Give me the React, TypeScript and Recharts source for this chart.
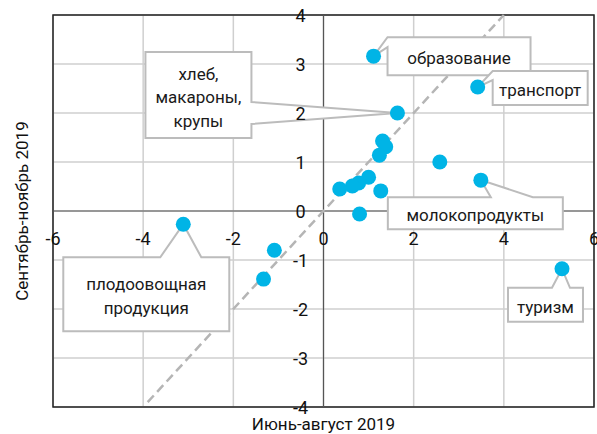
import { ScatterChart, Scatter, XAxis, YAxis, CartesianGrid, ReferenceLine, ReferenceArea } from "recharts";

// значения по осям: июнь-август 2019 (x) и сентябрь-ноябрь 2019 (y)
const pointX = [1.11, 3.42, 1.64, 1.31, 1.38, 1.24, 2.58, 1.0, 0.78, 0.64, 0.36, 3.49, 1.27, 0.8, -3.11, -1.09, -1.33, 5.29];
const pointY = [3.16, 2.53, 2.0, 1.43, 1.31, 1.14, 1.0, 0.69, 0.57, 0.51, 0.45, 0.63, 0.41, -0.06, -0.27, -0.8, -1.39, -1.18];
const pointName = [
  "образование",
  "транспорт",
  "хлеб, макароны, крупы",
  "", "", "", "", "", "", "", "",
  "молокопродукты",
  "", "",
  "плодоовощная продукция",
  "", "",
  "туризм",
];

const xTicks = [-6, -4, -2, 0, 2, 4, 6];
const yTicks = [-4, -3, -2, -1, 0, 1, 2, 3, 4];
const diagonalEnds = [-3.9, 4];

const points = pointX.map((x, i) => ({ x, y: pointY[i], name: pointName[i] }));
const labeled = points.filter((p) => p.name !== "");
const xTickData = xTicks.map((v) => ({ x: v, y: 0 }));
const yTickData = yTicks.map((v) => ({ x: 0, y: v }));

type Callout = {
  lines: string[];
  box: [number, number, number, number]; // dx, dy, w, h от точки
  side: "left" | "right" | "top";
  base: [number, number];
};

const callouts: Record<string, Callout> = {
  "образование": { lines: ["образование"], box: [14, -19, 143, 38], side: "left", base: [-19, -9] },
  "транспорт": { lines: ["транспорт"], box: [15, -16, 95, 34], side: "left", base: [-16, -7] },
  "хлеб, макароны, крупы": { lines: ["хлеб,", "макароны,", "крупы"], box: [-252, -61, 106, 86], side: "right", base: [-11, 11] },
  "молокопродукты": { lines: ["молокопродукты"], box: [-93, 17, 175, 32], side: "top", base: [10, 52] },
  "плодоовощная продукция": { lines: ["плодоовощная", "продукция"], box: [-120, 33, 166, 74], side: "top", base: [-23, 18] },
  "туризм": { lines: ["туризм"], box: [-54, 19, 75, 34], side: "top", base: [-10, 8] },
};

const FONT = "Roboto, 'Noto Sans', sans-serif";
const BLUE = "#00b4e6";

function calloutPath(cx: number, cy: number, c: Callout) {
  const x0 = cx + c.box[0];
  const y0 = cy + c.box[1];
  const x1 = x0 + c.box[2];
  const y1 = y0 + c.box[3];
  const [b1, b2] = c.base;
  if (c.side === "top") {
    return `M${x0},${y0} L${cx + b1},${y0} L${cx},${cy} L${cx + b2},${y0} L${x1},${y0} L${x1},${y1} L${x0},${y1} Z`;
  }
  if (c.side === "right") {
    return `M${x0},${y0} L${x1},${y0} L${x1},${cy + b1} L${cx},${cy} L${x1},${cy + b2} L${x1},${y1} L${x0},${y1} Z`;
  }
  return `M${x0},${y0} L${x1},${y0} L${x1},${y1} L${x0},${y1} L${x0},${cy + b2} L${cx},${cy} L${x0},${cy + b1} Z`;
}

const CalloutShape = (props: any) => {
  const { cx, cy, payload } = props;
  const c = callouts[payload.name];
  if (!c) return null;
  const midX = cx + c.box[0] + c.box[2] / 2;
  const midY = cy + c.box[1] + c.box[3] / 2 + 2;
  const lh = 23.5;
  const start = midY - ((c.lines.length - 1) * lh) / 2;
  return (
    <g>
      <path d={calloutPath(cx, cy, c)} fill="#fff" stroke="#bcbcbc" strokeWidth={2} strokeLinejoin="miter" />
      {c.lines.map((t, i) => (
        <text
          key={i}
          x={midX}
          y={start + i * lh}
          textAnchor="middle"
          dominantBaseline="central"
          fontFamily={FONT}
          fontSize={17}
          fill="#1a1a1a"
        >
          {t}
        </text>
      ))}
    </g>
  );
};

const Dot = (props: any) => <circle cx={props.cx} cy={props.cy} r={7.5} fill={BLUE} />;

const XTickLabel = (props: any) => (
  <text x={props.cx} y={props.cy + 27} textAnchor="middle" dominantBaseline="central" fontFamily={FONT} fontSize={18} fill="#111">
    {String(props.payload.x)}
  </text>
);

const YTickLabel = (props: any) => (
  <text x={props.cx - 23} y={props.cy} textAnchor="middle" dominantBaseline="central" fontFamily={FONT} fontSize={18} fill="#111">
    {String(props.payload.y)}
  </text>
);

export default function App() {
  return (
    <div style={{ position: "absolute", left: 0, top: 0, width: 597, height: 434, background: "#fff" }}>
      <ScatterChart width={597} height={434} margin={{ top: 15, right: 3, bottom: 27, left: 53 }}>
        <XAxis type="number" dataKey="x" domain={[-6, 6]} ticks={xTicks} hide />
        <YAxis type="number" dataKey="y" domain={[-4, 4]} ticks={yTicks} hide />
        <CartesianGrid stroke="#cfcfcf" strokeWidth={1.5} />
        <ReferenceLine x={0} stroke="#555" strokeWidth={1.2} />
        <ReferenceLine y={0} stroke="#555" strokeWidth={1.2} />
        <ReferenceArea x1={-6} x2={6} y1={-4} y2={4} fill="none" stroke="#222" strokeWidth={1.5} />
        <ReferenceLine
          segment={[
            { x: diagonalEnds[0], y: diagonalEnds[0] },
            { x: diagonalEnds[1], y: diagonalEnds[1] },
          ]}
          stroke="#b5b5b5"
          strokeWidth={2.5}
          strokeDasharray="9 5"
        />
        <Scatter data={labeled} shape={CalloutShape} isAnimationActive={false} />
        <Scatter data={points} shape={Dot} isAnimationActive={false} />
        <Scatter data={xTickData} shape={XTickLabel} isAnimationActive={false} />
        <Scatter data={yTickData} shape={YTickLabel} isAnimationActive={false} />
      </ScatterChart>
      <div
        style={{
          position: "absolute",
          left: 0,
          width: 597,
          top: 414,
          textAlign: "center",
          paddingLeft: 50,
          boxSizing: "border-box",
          fontFamily: FONT,
          fontSize: 17,
          color: "#111",
          lineHeight: "20px",
        }}
      >
        Июнь-август 2019
      </div>
      <div
        style={{
          position: "absolute",
          left: 22,
          top: 211,
          transform: "translate(-50%, -50%) rotate(-90deg)",
          whiteSpace: "nowrap",
          fontFamily: FONT,
          fontSize: 17,
          color: "#111",
          lineHeight: "20px",
        }}
      >
        Сентябрь-ноябрь 2019
      </div>
    </div>
  );
}
